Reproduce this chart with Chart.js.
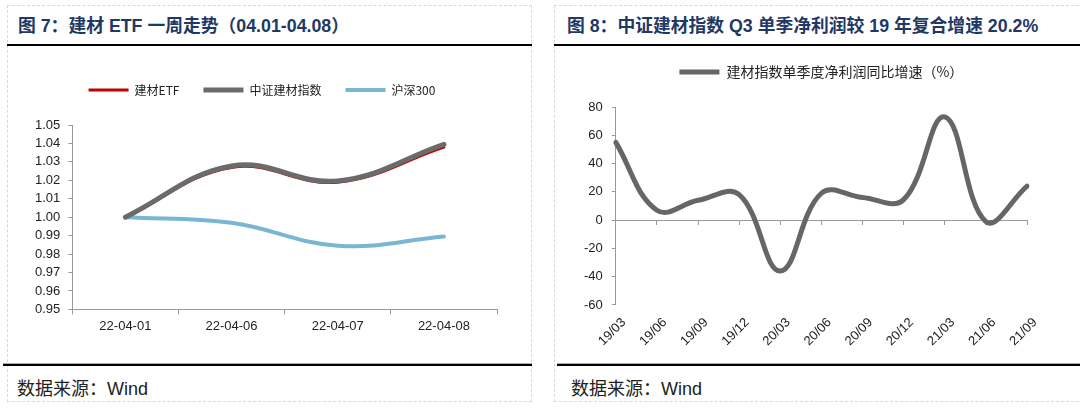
<!DOCTYPE html>
<html>
<head>
<meta charset="utf-8">
<script src="https://cdn.jsdelivr.net/npm/chart.js@4.4.0/dist/chart.umd.min.js"></script>
<style>
  body { margin: 0; background: #fff; width: 1080px; height: 410px; overflow: hidden; font-family: "Liberation Sans", Arial, "Noto Sans CJK SC", sans-serif; }
  .panel { position: absolute; top: 5px; height: 397px; border: 1px dashed #d8d8d8; box-sizing: border-box; }
  .title { position: absolute; top: 11px; font-size: 17.8px; font-weight: bold; color: #1f3864; font-family: "Liberation Sans", "Noto Sans CJK SC", sans-serif; white-space: nowrap; }
  .rule { position: absolute; height: 2px; background: #000; }
  .foot { position: absolute; top: 374px; font-size: 18px; color: #222; font-family: "Liberation Sans", "Noto Sans CJK SC", sans-serif; }
  canvas { position: absolute; }
</style>
</head>
<body>
<div class="panel" style="left:7px; width:525px;"></div>
<div class="panel" style="left:554px; width:530px;"></div>
<div class="title" style="left:18px;">图 7：建材 ETF 一周走势（04.01-04.08）</div>
<div class="title" style="left:567px;">图 8：中证建材指数 Q3 单季净利润较 19 年复合增速 20.2%</div>
<div class="rule" style="left:7px; width:525px; top:44px;"></div>
<div class="rule" style="left:554px; width:526px; top:44px;"></div>
<div class="rule" style="left:3px; width:529px; top:364px; box-shadow: 0 -1px 0 #aaa;"></div>
<div class="rule" style="left:557px; width:523px; top:364px; box-shadow: 0 -1px 0 #aaa;"></div>
<div class="foot" style="left:17px;">数据来源：Wind</div>
<div class="foot" style="left:571px;">数据来源：Wind</div>

<div style="position:absolute; left:8px; top:50px; width:520px; height:305px;"><canvas id="chart-left"></canvas></div>
<div style="position:absolute; left:555px; top:50px; width:525px; height:305px;"><canvas id="chart-right"></canvas></div>

<script>
const days = ["22-04-01", "22-04-06", "22-04-07", "22-04-08"];
const etf = [1.000, 1.027, 1.019, 1.038];
const csiMaterials = [1.000, 1.0278, 1.0197, 1.0395];
const hs300 = [1.000, 0.997, 0.9845, 0.9895];

const quarters = ["19/03", "19/06", "19/09", "19/12", "20/03", "20/06", "20/09", "20/12", "21/03", "21/06", "21/09"];
const profitGrowth = [55, 7, 14, 18, -36, 19, 16, 14.5, 73, -1, 24];

const tickFont = { family: "Liberation Sans, Arial", size: 13 };
const legendFont = { family: "Noto Sans CJK SC", size: 12 };
const axisGray = "#9a9a9a";

// legend needs extra room below it so the plot starts lower
const legendGap = gap => ({
    id: "legendGap",
    beforeInit(chart) {
        const fit = chart.legend.fit;
        chart.legend.fit = function () { fit.call(this); this.height += gap; };
    }
});

new Chart(document.getElementById("chart-left"), {
    type: "line",
    data: {
        labels: days,
        datasets: [
            { label: "建材ETF", data: etf, borderColor: "#c00000", backgroundColor: "#c00000", borderWidth: 3, order: 2 },
            { label: "中证建材指数", data: csiMaterials, borderColor: "#6b6b6b", backgroundColor: "#6b6b6b", borderWidth: 5, order: 1 },
            { label: "沪深300", data: hs300, borderColor: "#79b6d2", backgroundColor: "#79b6d2", borderWidth: 4, order: 3 }
        ]
    },
    options: {
        responsive: true, maintainAspectRatio: false, animation: false,
        elements: { point: { radius: 0 }, line: { tension: 0.4, borderCapStyle: "round" } },
        layout: { padding: { top: 10, left: 19, right: 31, bottom: 17 } },
        plugins: {
            legend: {
                position: "top",
                labels: {
                    usePointStyle: true, pointStyle: "line", pointStyleWidth: 40, font: legendFont, color: "#222", padding: 24,
                    sort: (a, b) => a.datasetIndex - b.datasetIndex
                }
            },
            tooltip: { enabled: false }
        },
        scales: {
            x: {
                offset: true,
                grid: { offset: true, drawOnChartArea: false, tickLength: 5, color: axisGray },
                border: { color: axisGray },
                ticks: { font: tickFont, color: "#222", padding: 4 }
            },
            y: {
                min: 0.95, max: 1.05,
                grid: { drawOnChartArea: false, tickLength: 4, color: axisGray },
                border: { color: axisGray },
                ticks: { stepSize: 0.01, autoSkip: false, font: tickFont, color: "#222", padding: 8, callback: v => Number(v).toFixed(2) }
            }
        }
    },
    plugins: [legendGap(19)]
});

new Chart(document.getElementById("chart-right"), {
    type: "line",
    data: {
        labels: quarters,
        datasets: [
            { label: "建材指数单季度净利润同比增速（%）", data: profitGrowth, borderColor: "#666666", backgroundColor: "#666666", borderWidth: 5 }
        ]
    },
    options: {
        responsive: true, maintainAspectRatio: false, animation: false,
        elements: { point: { radius: 0 }, line: { tension: 0.4, borderCapStyle: "round" } },
        layout: { padding: { top: 5, left: 20, right: 53, bottom: 4 } },
        plugins: {
            legend: {
                position: "top", fullSize: false,
                labels: { usePointStyle: true, pointStyle: "line", pointStyleWidth: 40, font: { family: "Noto Sans CJK SC", size: 14 }, color: "#222" }
            },
            tooltip: { enabled: false }
        },
        scales: {
            x: {
                offset: false,
                grid: { display: false },
                border: { display: false },
                ticks: { autoSkip: false, minRotation: 45, maxRotation: 45, labelOffset: 8, font: tickFont, color: "#222", padding: 2 }
            },
            x0: {
                type: "category", labels: quarters, position: { y: 0 }, offset: false,
                ticks: { display: false },
                grid: { drawOnChartArea: false, tickLength: 4, color: axisGray },
                border: { color: axisGray }
            },
            y: {
                min: -60, max: 80,
                grid: { drawOnChartArea: false, tickLength: 4, color: axisGray },
                border: { color: axisGray },
                ticks: { stepSize: 20, font: tickFont, color: "#222", padding: 9 }
            }
        }
    },
    plugins: [legendGap(18)]
});
</script>
</body>
</html>
